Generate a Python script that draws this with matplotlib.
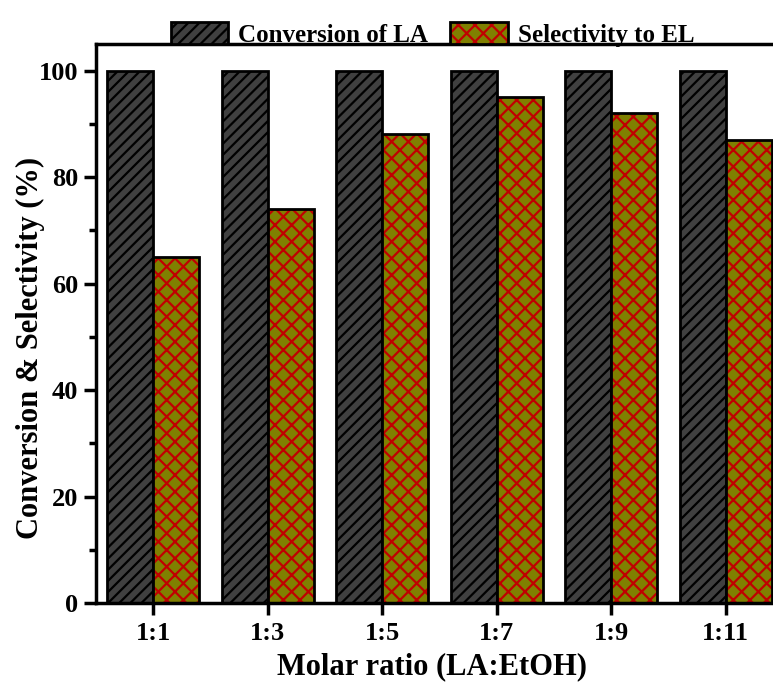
import matplotlib as mpl
mpl.use("Agg")
import matplotlib.pyplot as plt
import numpy as np
from matplotlib.patches import Patch
from matplotlib.legend_handler import HandlerTuple

# molar ratio series
ratios = ["1:1", "1:3", "1:5", "1:7", "1:9", "1:11"]
conversion = [100, 100, 100, 100, 100, 100]
selectivity = [65, 74, 88, 95, 92, 87]

plt.rcParams['font.family'] = ['Liberation Serif', 'DejaVu Serif']
plt.rcParams['font.weight'] = 'bold'
plt.rcParams['hatch.linewidth'] = 1.6

dark = "#404040"
olive = "#808000"
red = "#c00000"

fig = plt.figure(figsize=(7.73, 6.83), dpi=100)
ax = fig.add_axes([0.1242, 0.1171, 0.8888, 0.8185])

x = np.arange(len(ratios))
w = 0.4

# conversion bars: grey with black diagonal hatch
ax.bar(x - w/2, conversion, w, color=dark, edgecolor="black",
       hatch="///", linewidth=2, zorder=2)

# selectivity bars: olive with red cross hatch, black outline on top
ax.bar(x + w/2, selectivity, w, color=olive, edgecolor=red,
       hatch="xx", linewidth=0, zorder=2)
ax.bar(x + w/2, selectivity, w, fill=False, edgecolor="black",
       linewidth=2, zorder=3)

ax.set_xlim(-0.5, 5.5)
ax.set_ylim(0, 105)
ax.set_xticks(x)
ax.set_xticklabels(ratios)
ax.set_yticks(np.arange(0, 101, 20))
ax.set_yticks(np.arange(10, 101, 20), minor=True)

ax.tick_params(axis='x', which='major', direction='out', length=8.5,
               width=2.5, labelsize=19, pad=5)
ax.tick_params(axis='y', which='major', direction='out', length=9,
               width=2.5, labelsize=19, pad=4)
ax.tick_params(axis='y', which='minor', direction='out', length=5,
               width=2.5)
ax.tick_params(top=False, right=False)

for s in ax.spines.values():
    s.set_linewidth(2.5)

ax.set_xlabel("Molar ratio (LA:EtOH)", fontsize=22, fontweight='bold')
ax.set_ylabel("Conversion & Selectivity (%)", fontsize=22,
              fontweight='bold')
ax.xaxis.set_label_coords(0.489, -0.088)
ax.yaxis.set_label_coords(-0.074, 0.456)

# legend sitting on the top spine
h1 = Patch(facecolor=dark, edgecolor="black", hatch="///", linewidth=2)
h2 = (Patch(facecolor=olive, edgecolor=red, hatch="xx", linewidth=0),
      Patch(fill=False, edgecolor="black", linewidth=2))
leg = ax.legend([h1, h2], ["Conversion of LA", "Selectivity to EL"],
                handler_map={tuple: HandlerTuple(ndivide=1, pad=0)},
                loc='lower left', bbox_to_anchor=(0.109, 0.995),
                ncol=2, frameon=False, borderpad=0, borderaxespad=0,
                fontsize=18, handlelength=2.3, handleheight=1.0,
                handletextpad=0.4, columnspacing=0.88)
for t in leg.get_texts():
    t.set_fontweight('bold')
leg.set_zorder(5)

fig.savefig("out.png", dpi=100, facecolor="white")
